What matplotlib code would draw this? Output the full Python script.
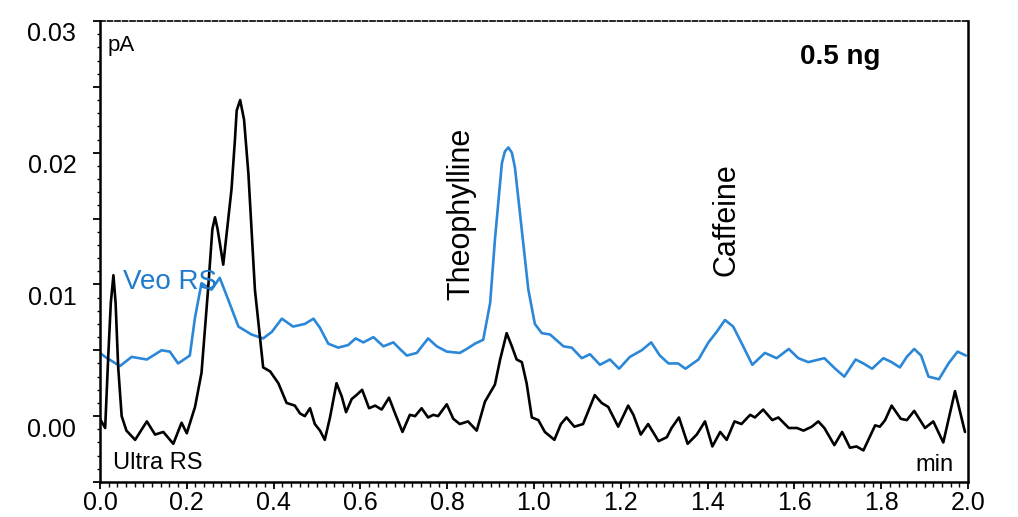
import matplotlib
matplotlib.use("Agg")
import matplotlib.pyplot as plt
import matplotlib.transforms as mtransforms
from matplotlib.ticker import MultipleLocator, FuncFormatter

plt.rcParams['font.family'] = ['Liberation Sans', 'DejaVu Sans']

# Veo RS trace (blue): time in min, signal in pA
veo_t = [0.0, 0.012, 0.046, 0.073, 0.108, 0.142, 0.161, 0.180, 0.207, 0.219,
         0.234, 0.257, 0.276, 0.296, 0.319, 0.349, 0.376, 0.396, 0.419, 0.445,
         0.472, 0.492, 0.507, 0.526, 0.549, 0.572, 0.589, 0.607, 0.630, 0.653,
         0.676, 0.691, 0.707, 0.730, 0.756, 0.776, 0.799, 0.829, 0.845, 0.864,
         0.883, 0.899, 0.910, 0.926, 0.933, 0.941, 0.949, 0.956, 0.972, 0.987,
         1.002, 1.018, 1.037, 1.068, 1.087, 1.110, 1.129, 1.152, 1.175, 1.196,
         1.221, 1.248, 1.270, 1.290, 1.310, 1.332, 1.349, 1.379, 1.402, 1.421,
         1.440, 1.459, 1.482, 1.503, 1.532, 1.559, 1.587, 1.609, 1.632, 1.669,
         1.694, 1.715, 1.741, 1.759, 1.779, 1.805, 1.824, 1.843, 1.859, 1.876,
         1.892, 1.909, 1.933, 1.955, 1.976, 1.995]
veo_y = [0.0048, 0.0045, 0.0038, 0.0045, 0.0043, 0.0050, 0.0049, 0.0040, 0.0046, 0.0075,
         0.0101, 0.0096, 0.0105, 0.0088, 0.0068, 0.0062, 0.0059, 0.0064, 0.0074, 0.0068,
         0.0070, 0.0074, 0.0067, 0.0055, 0.0052, 0.0054, 0.0059, 0.0056, 0.0060, 0.0053,
         0.0056, 0.0051, 0.0046, 0.0048, 0.0059, 0.0053, 0.0049, 0.0048, 0.0051, 0.0055,
         0.0058, 0.0086, 0.0134, 0.0192, 0.0201, 0.0204, 0.0200, 0.0189, 0.0141, 0.0096,
         0.0070, 0.0063, 0.0062, 0.0053, 0.0052, 0.0044, 0.0047, 0.0039, 0.0043, 0.0036,
         0.0045, 0.0050, 0.0056, 0.0046, 0.0040, 0.0040, 0.0036, 0.0043, 0.0056, 0.0064,
         0.0073, 0.0068, 0.0053, 0.0039, 0.0048, 0.0044, 0.0051, 0.0044, 0.0041, 0.0044,
         0.0036, 0.0030, 0.0043, 0.0040, 0.0036, 0.0044, 0.0041, 0.0037, 0.0045, 0.0051,
         0.0046, 0.0030, 0.0028, 0.0040, 0.0049, 0.0046]

# Ultra RS trace (black)
ultra_t = [0.0, 0.012, 0.019, 0.025, 0.031, 0.036, 0.042, 0.050, 0.061, 0.081,
           0.108, 0.127, 0.146, 0.169, 0.188, 0.200, 0.219, 0.234, 0.249, 0.259,
           0.265, 0.271, 0.284, 0.303, 0.311, 0.315, 0.323, 0.332, 0.342, 0.357,
           0.376, 0.392, 0.411, 0.430, 0.449, 0.461, 0.472, 0.484, 0.495, 0.507,
           0.518, 0.530, 0.545, 0.557, 0.567, 0.580, 0.591, 0.604, 0.620, 0.634,
           0.649, 0.666, 0.680, 0.697, 0.714, 0.726, 0.741, 0.756, 0.768, 0.779,
           0.799, 0.814, 0.829, 0.848, 0.868, 0.887, 0.910, 0.922, 0.937, 0.949,
           0.960, 0.972, 0.983, 0.995, 1.010, 1.025, 1.047, 1.062, 1.075, 1.093,
           1.113, 1.140, 1.156, 1.171, 1.194, 1.217, 1.229, 1.246, 1.263, 1.287,
           1.306, 1.317, 1.334, 1.354, 1.375, 1.394, 1.411, 1.429, 1.444, 1.462,
           1.478, 1.498, 1.509, 1.528, 1.549, 1.563, 1.587, 1.606, 1.621, 1.640,
           1.655, 1.669, 1.692, 1.710, 1.728, 1.743, 1.759, 1.786, 1.797, 1.809,
           1.824, 1.845, 1.859, 1.876, 1.901, 1.920, 1.943, 1.970, 1.993]
ultra_y = [-0.0002, -0.0009, 0.0045, 0.0086, 0.0107, 0.0086, 0.0037, 0.0000, -0.0011, -0.0018,
           -0.0004, -0.0014, -0.0012, -0.0021, -0.0005, -0.0013, 0.0007, 0.0033, 0.0096, 0.0142,
           0.0151, 0.0142, 0.0115, 0.0172, 0.0210, 0.0232, 0.0240, 0.0225, 0.0184, 0.0096,
           0.0037, 0.0034, 0.0025, 0.0010, 0.0008, 0.0002, 0.0000, 0.0006, -0.0006, -0.0011,
           -0.0018, -0.0001, 0.0025, 0.0015, 0.0003, 0.0013, 0.0016, 0.0020, 0.0006, 0.0008,
           0.0005, 0.0014, 0.0002, -0.0012, 0.0001, 0.0000, 0.0006, -0.0001, 0.0001, 0.0000,
           0.0009, -0.0002, -0.0006, -0.0004, -0.0011, 0.0011, 0.0024, 0.0043, 0.0063, 0.0053,
           0.0043, 0.0041, 0.0025, -0.0001, -0.0003, -0.0012, -0.0018, -0.0006, -0.0001, -0.0008,
           -0.0006, 0.0016, 0.0010, 0.0007, -0.0008, 0.0008, 0.0001, -0.0014, -0.0006, -0.0019,
           -0.0016, -0.0009, -0.0001, -0.0021, -0.0014, -0.0004, -0.0023, -0.0012, -0.0018, -0.0004,
           -0.0006, 0.0001, -0.0001, 0.0005, -0.0003, -0.0001, -0.0009, -0.0009, -0.0011, -0.0008,
           -0.0004, -0.0009, -0.0022, -0.0012, -0.0024, -0.0023, -0.0026, -0.0007, -0.0008, -0.0003,
           0.0008, -0.0002, -0.0003, 0.0004, -0.0009, -0.0004, -0.0020, 0.0019, -0.0012]

peak_names = ["Theophylline", "Caffeine"]

blue = '#2b87d8'

fig = plt.figure(figsize=(10.18, 5.17), dpi=100)
ax = fig.add_axes([0.0982, 0.0677, 0.8527, 0.8917])

ax.plot(veo_t, veo_y, color=blue, lw=1.9, solid_joinstyle='round', solid_capstyle='round')
ax.plot(ultra_t, ultra_y, color='black', lw=1.9, solid_joinstyle='round', solid_capstyle='round')

ax.set_xlim(0, 2.0)
ax.set_ylim(-0.005, 0.03)

ax.xaxis.set_major_locator(MultipleLocator(0.2))
ax.xaxis.set_minor_locator(MultipleLocator(0.02))
ax.xaxis.set_major_formatter(FuncFormatter(lambda v, p: f"{v:.1f}"))
ax.yaxis.set_major_locator(MultipleLocator(0.005))
ax.yaxis.set_minor_locator(MultipleLocator(0.001))
ax.yaxis.set_major_formatter(FuncFormatter(
    lambda v, p: f"{v:.2f}" if abs(round(v * 100) - v * 100) < 1e-6 else ""))

ax.tick_params(axis='x', which='major', direction='out', length=5, width=1.3, pad=1.5, labelsize=18)
ax.tick_params(axis='x', which='minor', direction='out', length=3.5, width=1.0)
ax.tick_params(axis='y', which='major', direction='out', length=5, width=1.3, pad=12, labelsize=18)
ax.tick_params(axis='y', which='minor', direction='out', length=2.5, width=1.0)

# y labels sit a little below their ticks in the original
offset = mtransforms.ScaledTranslation(0, -11 / 100, fig.dpi_scale_trans)
for lab in ax.get_yticklabels():
    lab.set_transform(lab.get_transform() + offset)

for side in ['left', 'bottom', 'right']:
    ax.spines[side].set_linewidth(1.8)
ax.spines['top'].set_linewidth(1.2)
ax.spines['top'].set_linestyle((0, (3, 1.5)))

ax.text(0.009, 0.946, "pA", transform=ax.transAxes, fontsize=16, va='center', ha='left')
ax.text(0.853, 0.922, "0.5 ng", transform=ax.transAxes, fontsize=20, fontweight='bold',
        va='center', ha='center')
ax.text(0.0265, 0.434, "Veo RS", transform=ax.transAxes, fontsize=20, color='#1f7bcb',
        va='center', ha='left')
ax.text(0.015, 0.041, "Ultra RS", transform=ax.transAxes, fontsize=17, va='center', ha='left')
ax.text(0.983, 0.036, "min", transform=ax.transAxes, fontsize=17, va='center', ha='right',
        bbox=dict(facecolor='white', edgecolor='none', pad=1))
ax.text(0.416, 0.582, peak_names[0], transform=ax.transAxes, fontsize=22, rotation=90,
        va='center', ha='center')
ax.text(0.722, 0.570, peak_names[1], transform=ax.transAxes, fontsize=22, rotation=90,
        va='center', ha='center')

fig.savefig("out.png", dpi=100)
